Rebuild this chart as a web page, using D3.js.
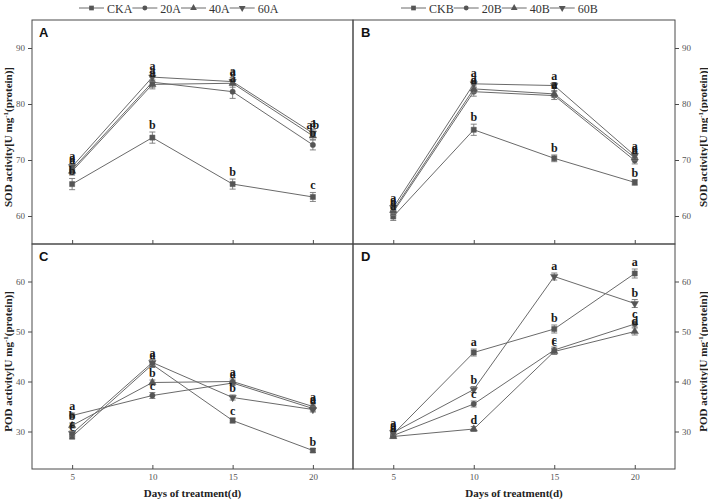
<!DOCTYPE html>
<html><head><meta charset="utf-8">
<script src="https://cdn.jsdelivr.net/npm/d3@7"></script>
<style>
html,body{margin:0;padding:0;background:#fff;}
svg{display:block;}
</style></head>
<body>
<svg id="chart" width="708" height="502"></svg>
<script>
// ---------------- DATA ----------------
const days = [5, 10, 15, 20];
const xTicks = [5, 10, 15, 20];
const sodTicks = [60, 70, 80, 90];
const podTicks = [30, 40, 50, 60];
const seriesA = ["CKA", "20A", "40A", "60A"];
const seriesB = ["CKB", "20B", "40B", "60B"];
const markerKinds = ["square", "circle", "triangle", "triangleDown"];
const panelLabels = ["A", "B", "C", "D"];
const yTitleSOD = "SOD activity[U mg";
const yTitlePOD = "POD activity[U mg";
const xTitle = "Days of treatment(d)";

// Panel A: SOD, A treatments
const sodCKA = [65.7, 74.0, 65.7, 63.4];
const sod20A = [68.3, 83.9, 82.2, 72.7];
const sod40A = [68.0, 83.5, 83.7, 74.3];
const sod60A = [68.8, 84.8, 84.0, 74.8];
const sodErrA = [[1.0, 1.0, 0.9, 0.8], [0.8, 0.9, 1.2, 0.9], [0.7, 0.8, 0.7, 0.7], [0.6, 0.8, 0.7, 0.6]];
const sodLetCKA = ["b", "b", "b", "c"];
const sodLet20A = ["a", "a", "a", "b"];
const sodLet40A = ["a", "a", "a", "ab"];
const sodLet60A = ["a", "a", "a", "a"];

// Panel B: SOD, B treatments
const sodCKB = [59.9, 75.4, 70.3, 66.0];
const sod20B = [60.7, 82.2, 81.5, 69.9];
const sod40B = [61.0, 82.7, 81.8, 70.4];
const sod60B = [61.5, 83.6, 83.3, 70.8];
const sodErrB = [[0.7, 1.0, 0.6, 0.5], [0.6, 0.8, 0.7, 0.6], [0.6, 0.7, 0.6, 0.5], [0.5, 0.6, 0.5, 0.5]];
const sodLetCKB = ["a", "b", "b", "b"];
const sodLet20B = ["a", "a", "a", "a"];
const sodLet40B = ["a", "a", "a", "a"];
const sodLet60B = ["a", "a", "a", "a"];

// Panel C: POD, A treatments
const podCKA = [29.0, 43.4, 32.2, 26.2];
const pod20A = [33.2, 37.2, 39.7, 34.6];
const pod40A = [31.2, 39.8, 40.0, 35.0];
const pod60A = [29.6, 43.8, 36.8, 34.4];
const podErrA = [[0.5, 0.6, 0.5, 0.4], [0.5, 0.6, 0.5, 0.5], [0.5, 0.5, 0.5, 0.5], [0.5, 0.6, 0.5, 0.5]];
const podLetCKA = ["c", "a", "c", "b"];
const podLet20A = ["a", "c", "a", "a"];
const podLet40A = ["b", "b", "a", "a"];
const podLet60A = ["c", "a", "b", "a"];

// Panel D: POD, B treatments
const podCKB = [29.5, 45.8, 50.5, 61.6];
const pod20B = [29.2, 35.5, 46.3, 51.5];
const pod40B = [29.0, 30.5, 46.0, 50.0];
const pod60B = [29.8, 38.4, 61.0, 55.6];
const podErrB = [[0.5, 0.7, 0.8, 0.9], [0.5, 0.6, 0.6, 0.6], [0.4, 0.5, 0.6, 0.7], [0.5, 0.6, 0.7, 0.8]];
const podLetCKB = ["a", "a", "b", "a"];
const podLet20B = ["a", "c", "c", "c"];
const podLet40B = ["a", "d", "c", "d"];
const podLet60B = ["a", "b", "a", "b"];

// ---------------- LAYOUT ----------------
const svg = d3.select("#chart");
const L = 32, M = 353, R = 675, T = 20, MY = 244, B = 469;
const lineColor = "#6a6a6a", markColor = "#555", frameColor = "#4a4a4a";
const serif = "'Liberation Serif','Times New Roman',serif";
const sans = "'Liberation Sans',Arial,sans-serif";

const panels = [
  {label: panelLabels[0], x0: L, x1: M, y0: T, y1: MY, dom: [55, 95], ticks: sodTicks, side: "left", xlab: false,
   vals: [sodCKA, sod20A, sod40A, sod60A], errs: sodErrA, lets: [sodLetCKA, sodLet20A, sodLet40A, sodLet60A]},
  {label: panelLabels[1], x0: M, x1: R, y0: T, y1: MY, dom: [55, 95], ticks: sodTicks, side: "right", xlab: false,
   vals: [sodCKB, sod20B, sod40B, sod60B], errs: sodErrB, lets: [sodLetCKB, sodLet20B, sodLet40B, sodLet60B]},
  {label: panelLabels[2], x0: L, x1: M, y0: MY, y1: B, dom: [22.5, 67.5], ticks: podTicks, side: "left", xlab: true,
   vals: [podCKA, pod20A, pod40A, pod60A], errs: podErrA, lets: [podLetCKA, podLet20A, podLet40A, podLet60A]},
  {label: panelLabels[3], x0: M, x1: R, y0: MY, y1: B, dom: [22.5, 67.5], ticks: podTicks, side: "right", xlab: true,
   vals: [podCKB, pod20B, pod40B, pod60B], errs: podErrB, lets: [podLetCKB, podLet20B, podLet40B, podLet60B]}
];

function symbolPath(kind, size) {
  if (kind === "square") return d3.symbol(d3.symbolSquare, size)();
  if (kind === "circle") return d3.symbol(d3.symbolCircle, size * 0.85)();
  return d3.symbol(d3.symbolTriangle, size * 0.9)();
}
function symbolTransform(kind, x, y) {
  return kind === "triangleDown" ? `translate(${x},${y}) rotate(180)` : `translate(${x},${y})`;
}

panels.forEach(p => {
  const x = d3.scaleLinear().domain([2.5, 22.5]).range([p.x0, p.x1]);
  const y = d3.scaleLinear().domain(p.dom).range([p.y1, p.y0]);
  const g = svg.append("g");

  // x axis (ticks inward)
  const xa = d3.axisBottom(x).tickValues(xTicks).tickSizeInner(-4).tickSizeOuter(0).tickPadding(5);
  if (!p.xlab) xa.tickFormat("");
  const gx = g.append("g").attr("transform", `translate(0,${p.y1})`).call(xa);
  gx.select(".domain").remove();
  gx.selectAll("line").attr("stroke", frameColor);
  gx.selectAll("text").attr("font-family", serif).attr("font-size", 9).attr("fill", "#555");

  // y axis
  const ya = (p.side === "left" ? d3.axisLeft(y) : d3.axisRight(y))
    .tickValues(p.ticks).tickSizeInner(4).tickSizeOuter(0).tickPadding(3);
  const gy = g.append("g").attr("transform", `translate(${p.side === "left" ? p.x0 : p.x1},0)`).call(ya);
  gy.select(".domain").remove();
  gy.selectAll("line").attr("stroke", frameColor);
  gy.selectAll("text").attr("font-family", serif).attr("font-size", 9).attr("fill", "#555");

  // frame
  g.append("rect").attr("x", p.x0).attr("y", p.y0).attr("width", p.x1 - p.x0).attr("height", p.y1 - p.y0)
    .attr("fill", "none").attr("stroke", frameColor).attr("stroke-width", 1);

  // panel label
  g.append("text").attr("x", p.x0 + (p.side === "left" ? 7 : 8)).attr("y", p.y0 + 17)
    .attr("font-family", sans).attr("font-weight", "bold").attr("font-size", 13).attr("fill", "#111").text(p.label);

  const line = d3.line().x((d, i) => x(days[i])).y(d => y(d));
  p.vals.forEach((vals, si) => {
    g.append("path").datum(vals).attr("d", line).attr("fill", "none")
      .attr("stroke", lineColor).attr("stroke-width", 1);
  });
  p.vals.forEach((vals, si) => {
    vals.forEach((v, i) => {
      const cx = x(days[i]), e = p.errs[si][i];
      const eg = g.append("g").attr("stroke", "#777").attr("stroke-width", 0.9);
      eg.append("line").attr("x1", cx).attr("x2", cx).attr("y1", y(v - e)).attr("y2", y(v + e));
      eg.append("line").attr("x1", cx - 3).attr("x2", cx + 3).attr("y1", y(v - e)).attr("y2", y(v - e));
      eg.append("line").attr("x1", cx - 3).attr("x2", cx + 3).attr("y1", y(v + e)).attr("y2", y(v + e));
      const kind = markerKinds[si];
      g.append("path").attr("d", symbolPath(kind, 26)).attr("transform", symbolTransform(kind, cx, y(v)))
        .attr("fill", markColor).attr("stroke", markColor).attr("stroke-width", 0.5);
    });
  });
  p.lets.forEach((lets, si) => {
    lets.forEach((t, i) => {
      const v = p.vals[si][i], e = p.errs[si][i];
      g.append("text").attr("x", x(days[i])).attr("y", y(v + e) - 3)
        .attr("text-anchor", "middle").attr("font-family", serif).attr("font-weight", "bold")
        .attr("font-size", 12).attr("fill", "#1a1a1a").text(t);
    });
  });

  // y titles
  const yt = p.y0 === T ? yTitleSOD : yTitlePOD;
  const tx = p.side === "left" ? 11.5 : 707;
  const tyc = (p.y0 + p.y1) / 2 + 5;
  const t = g.append("text").attr("transform", `translate(${tx},${tyc}) rotate(-90)`)
    .attr("text-anchor", "middle").attr("font-family", serif).attr("font-weight", "bold")
    .attr("font-size", 11).attr("fill", "#222");
  t.append("tspan").text(yt);
  t.append("tspan").attr("dy", -4).attr("font-size", 7).text("-1");
  t.append("tspan").attr("dy", 4).text("(protein)]");

  if (p.xlab) {
    g.append("text").attr("x", (p.x0 + p.x1) / 2).attr("y", 497).attr("text-anchor", "middle")
      .attr("font-family", serif).attr("font-weight", "bold").attr("font-size", 11).attr("fill", "#222").text(xTitle);
  }
});

// ---------------- LEGENDS ----------------
function legend(names, startX) {
  let cx = startX;
  const ly = 8;
  names.forEach((n, i) => {
    const lg = svg.append("g");
    lg.append("line").attr("x1", cx).attr("x2", cx + 25).attr("y1", ly).attr("y2", ly)
      .attr("stroke", lineColor).attr("stroke-width", 1);
    const kind = markerKinds[i];
    lg.append("path").attr("d", symbolPath(kind, 22)).attr("transform", symbolTransform(kind, cx + 12.5, ly))
      .attr("fill", markColor);
    const tt = lg.append("text").attr("x", cx + 28).attr("y", ly + 4.5).attr("font-family", serif)
      .attr("font-size", 12).attr("fill", "#333").text(n);
    cx = cx + 28 + tt.node().getComputedTextLength();
  });
}
legend(seriesA, 79);
legend(seriesB, 401);
</script>
</body></html>
